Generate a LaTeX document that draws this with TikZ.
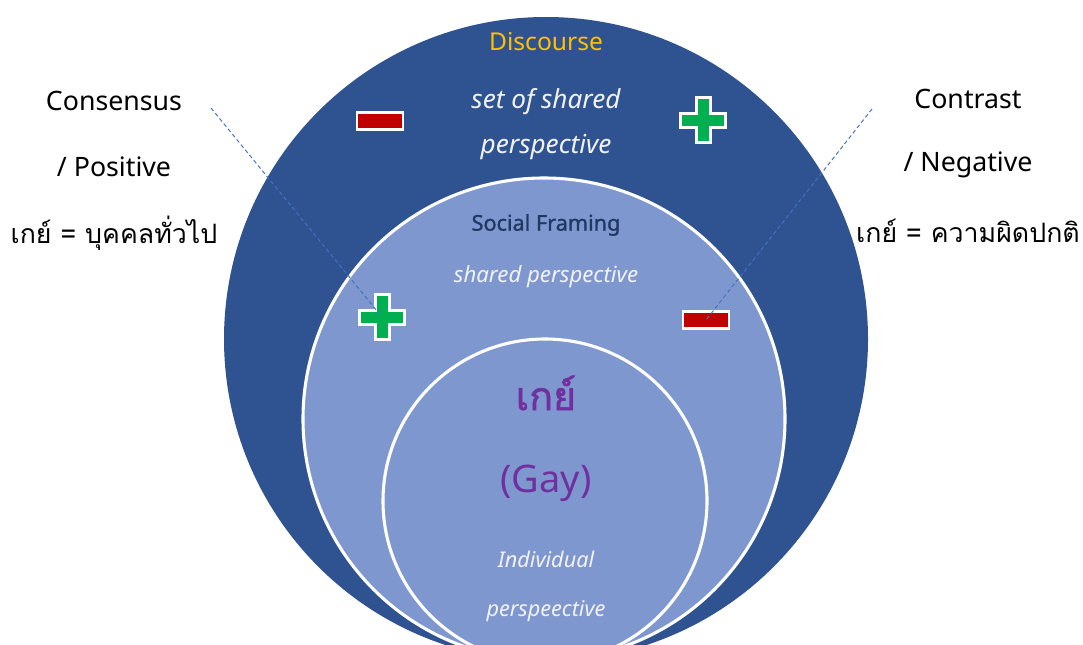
\documentclass[tikz,border=0pt]{standalone}
\usepackage{fontspec}
\setmainfont{Noto Sans}
\newfontfamily\thaifont[Script=Thai]{Loma}
\newfontfamily\semifont[FakeBold=1.2]{Noto Sans}
\newfontfamily\thaiheavy[Script=Thai, FakeBold=1.5]{Loma}

\definecolor{discourseblue}{HTML}{2F5290}
\definecolor{framingblue}{HTML}{7F97CF}
\definecolor{minusred}{HTML}{C00000}
\definecolor{plusgreen}{HTML}{00B050}
\definecolor{headgold}{HTML}{FFC000}
\definecolor{navytext}{HTML}{1F3864}
\definecolor{gaypurple}{HTML}{7030A0}
\definecolor{dashblue}{HTML}{4472C4}

\tikzset{
    sidelabel/.style={font=\fontsize{19}{22}\selectfont, text=black},
    sidethai/.style={font=\thaifont\fontsize{19}{23}\selectfont, text=black},
    softitalic/.style={font=\itshape\fontsize{18.6}{22}\selectfont, text=white!95!black},
    smallitalic/.style={font=\itshape\fontsize{15.4}{18}\selectfont, text=white!95!black},
    ring/.style={fill=framingblue, draw=white, line width=2.2pt},
    pointer/.style={dashblue, line width=0.7pt, dash pattern=on 2.8pt off 2pt},
    minusbox/.style={rectangle, fill=minusred, draw=white, line width=1.8pt,
        minimum width=1.15cm, minimum height=0.42cm, inner sep=0pt},
    plussign/.pic={
        \fill[white] (-24,-8.5) rectangle (24,8.5);
        \fill[white] (-8.5,-24) rectangle (8.5,24);
        \fill[plusgreen] (-21,-5.5) rectangle (21,5.5);
        \fill[plusgreen] (-5.5,-21) rectangle (5.5,21);
    }
}

\begin{document}
\begin{tikzpicture}[x=0.025cm, y=-0.025cm]
        \useasboundingbox (0,0) rectangle (1083,644);
        \clip (0,0) rectangle (1083,644);

        % three nested circles
        \fill[discourseblue] (546,339) circle (322);
        \draw[ring] (544,419) circle (241);
        \draw[ring] (545,501) circle (162);

        % outer circle
        \node[font=\fontsize{17.5}{20}\selectfont, text=headgold] (Discourse) at (546,42) {Discourse};
        \node[softitalic] (SetOfShared) at (546,102) {set of shared};
        \node[softitalic] (SharedPersp) at (546,147) {perspective};
        \node[minusbox] (minusTop) at (380,121) {};
        \coordinate (plusTop) at (703,120);
        \pic at (plusTop) {plussign};

        % middle circle
        \node[font=\semifont\fontsize{15.4}{18}\selectfont, text=navytext] (SocialFraming) at (546,225) {Social Framing};
        \node[smallitalic, font=\itshape\fontsize{15.8}{18}\selectfont] (SharedOnly) at (546,277) {shared perspective};
        \coordinate (plusLeft) at (382,317);
        \pic at (plusLeft) {plussign};
        \node[minusbox] (minusRight) at (706,320) {};

        % inner circle
        \node[font=\thaiheavy\fontsize{28}{32}\selectfont, text=gaypurple] (GayThai) at (546,393) {เกย์};
        \node[font=\fontsize{27}{32}\selectfont, text=gaypurple] (GayEn) at (546,483) {(Gay)};
        \node[smallitalic] (Individual) at (546,559) {Individual};
        \node[smallitalic] (Perspeective) at (546,611) {perspeective};

        % side labels
        \node[sidelabel] (Consensus) at (114,101) {Consensus};
        \node[sidelabel] (Positive) at (114,167) {/ Positive};
        \node[sidethai] (GayNormal) at (114,233) {เกย์ = บุคคลทั่วไป};
        \node[sidelabel] (Contrast) at (968,99) {Contrast};
        \node[sidelabel] (Negative) at (968,165) {/ Negative};
        \node[sidethai] (GayAbnormal) at (968,231) {เกย์ = ความผิดปกติ};

        % dashed pointers
        \coordinate (leftEnd) at (211,108);
        \coordinate (rightEnd) at (872,109);
        \draw[pointer] (leftEnd) -- (plusLeft);
        \draw[pointer] (rightEnd) -- (minusRight.center);
    \end{tikzpicture}
\end{document}
